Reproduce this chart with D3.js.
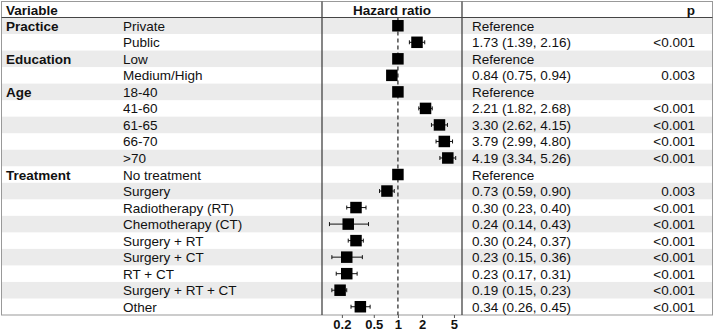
<!DOCTYPE html>
<html>
<head>
<meta charset="utf-8">
<script src="https://cdn.jsdelivr.net/npm/d3@7"></script>
<style>
  body { margin: 0; background: #fff; }
  text { font-family: "Liberation Sans", Arial, sans-serif; font-size: 13.5px; fill: #111; }
</style>
</head>
<body>
<div id="canvas"></div>
<script>
// DATA
const groups = ["Practice", "", "Education", "", "Age", "", "", "", "", "Treatment", "", "", "", "", "", "", "", ""];
const levels = ["Private", "Public", "Low", "Medium/High", "18-40", "41-60", "61-65", "66-70", ">70",
  "No treatment", "Surgery", "Radiotherapy (RT)", "Chemotherapy (CT)", "Surgery + RT", "Surgery + CT",
  "RT + CT", "Surgery + RT + CT", "Other"];
const hr    = [1, 1.73, 1, 0.84, 1, 2.21, 3.30, 3.79, 4.19, 1, 0.73, 0.30, 0.24, 0.30, 0.23, 0.23, 0.19, 0.34];
const lower = [null, 1.39, null, 0.75, null, 1.82, 2.62, 2.99, 3.34, null, 0.59, 0.23, 0.14, 0.24, 0.15, 0.17, 0.15, 0.26];
const upper = [null, 2.16, null, 0.94, null, 2.68, 4.15, 4.80, 5.26, null, 0.90, 0.40, 0.43, 0.37, 0.36, 0.31, 0.23, 0.45];
const pvals = ["", "<0.001", "", "0.003", "", "<0.001", "<0.001", "<0.001", "<0.001", "", "0.003",
  "<0.001", "<0.001", "<0.001", "<0.001", "<0.001", "<0.001", "<0.001"];
const tickValues = [0.2, 0.5, 1, 2, 5];

const rows = levels.map((d, i) => ({
  group: groups[i], level: d, hr: hr[i], lo: lower[i], hi: upper[i], p: pvals[i],
  label: lower[i] == null ? "Reference" : `${hr[i].toFixed(2)} (${lower[i].toFixed(2)}, ${upper[i].toFixed(2)})`
}));

// DIMENSIONS
const width = 714, height = 332;
const tLeft = 1.5, tRight = 712.5, tTop = 1.5, headBottom = 17.5, tBottom = 315;
const plotL = 322, plotR = 462;

const svg = d3.select("#canvas").append("svg")
  .attr("width", width).attr("height", height);

const y = d3.scaleBand()
  .domain(d3.range(rows.length))
  .range([headBottom, tBottom]);

const x = d3.scaleLog()
  .domain([0.113, 6.3])
  .range([plotL, plotR]);

// STRIPES
svg.selectAll("rect.stripe")
  .data(rows.filter((d, i) => i % 2 === 0))
  .join("rect")
  .attr("class", "stripe")
  .attr("x", tLeft)
  .attr("y", d => y(rows.indexOf(d)))
  .attr("width", tRight - tLeft)
  .attr("height", y.bandwidth())
  .attr("fill", "#ebebeb");

// BORDERS
svg.append("rect")
  .attr("x", tLeft).attr("y", tTop)
  .attr("width", tRight - tLeft).attr("height", tBottom - tTop)
  .attr("fill", "none").attr("stroke", "#999").attr("stroke-width", 1);

svg.append("line")
  .attr("x1", tLeft).attr("x2", tRight)
  .attr("y1", headBottom).attr("y2", headBottom)
  .attr("stroke", "#444");

[plotL, plotR].forEach(px => {
  svg.append("line")
    .attr("x1", px).attr("x2", px)
    .attr("y1", tTop).attr("y2", tBottom)
    .attr("stroke", "#444").attr("stroke-width", 1.3);
});

// HEADERS
const headY = (tTop + headBottom) / 2 + 5;
svg.append("text").attr("x", 6).attr("y", headY).attr("font-weight", "bold").text("Variable");
svg.append("text").attr("x", (plotL + plotR) / 2).attr("y", headY).attr("text-anchor", "middle")
  .attr("font-weight", "bold").text("Hazard ratio");
svg.append("text").attr("x", 695).attr("y", headY).attr("text-anchor", "end")
  .attr("font-weight", "bold").text("p");

// TABLE TEXT
const rowText = svg.append("g");
const ty = (d, i) => y(i) + y.bandwidth() / 2 + 5;

rowText.selectAll("text.group").data(rows).join("text")
  .attr("class", "group").attr("x", 6).attr("y", ty)
  .attr("font-weight", "bold").text(d => d.group);

rowText.selectAll("text.level").data(rows).join("text")
  .attr("class", "level").attr("x", 123).attr("y", ty).text(d => d.level);

rowText.selectAll("text.est").data(rows).join("text")
  .attr("class", "est").attr("x", 472).attr("y", ty).text(d => d.label);

rowText.selectAll("text.p").data(rows).join("text")
  .attr("class", "p").attr("x", 695).attr("y", ty).attr("text-anchor", "end").text(d => d.p);

// REFERENCE LINE
svg.append("line")
  .attr("x1", x(1)).attr("x2", x(1))
  .attr("y1", headBottom).attr("y2", tBottom)
  .attr("stroke", "#333").attr("stroke-width", 1.3)
  .attr("stroke-dasharray", "4,3");

// CI WHISKERS
const plot = svg.append("g");
const cy = (d, i) => y(i) + y.bandwidth() / 2;
const ci = rows.map((d, i) => ({ ...d, i })).filter(d => d.lo != null);

plot.selectAll("line.ci").data(ci).join("line")
  .attr("class", "ci")
  .attr("x1", d => x(d.lo)).attr("x2", d => x(d.hi))
  .attr("y1", d => cy(d, d.i)).attr("y2", d => cy(d, d.i))
  .attr("stroke", "#111").attr("stroke-width", 1);

["lo", "hi"].forEach(k => {
  plot.selectAll("line.cap-" + k).data(ci).join("line")
    .attr("class", "cap-" + k)
    .attr("x1", d => x(d[k])).attr("x2", d => x(d[k]))
    .attr("y1", d => cy(d, d.i) - 2).attr("y2", d => cy(d, d.i) + 2)
    .attr("stroke", "#111").attr("stroke-width", 1);
});

// SQUARES
const sq = 11.5;
plot.selectAll("rect.pt").data(rows).join("rect")
  .attr("class", "pt")
  .attr("x", d => x(d.hr) - sq / 2)
  .attr("y", (d, i) => cy(d, i) - sq / 2)
  .attr("width", sq).attr("height", sq)
  .attr("fill", "#000");

// AXIS
const axis = svg.append("g")
  .attr("transform", `translate(0,${tBottom})`)
  .call(d3.axisBottom(x).tickValues(tickValues).tickFormat(d3.format("~g")).tickSize(3).tickPadding(2));
axis.select(".domain").remove();
axis.selectAll("line").attr("stroke", "#555");
axis.selectAll("text")
  .style("font-family", "'Liberation Sans', Arial, sans-serif")
  .style("font-size", "13px")
  .style("font-weight", "bold")
  .attr("fill", "#333");
</script>
</body>
</html>
